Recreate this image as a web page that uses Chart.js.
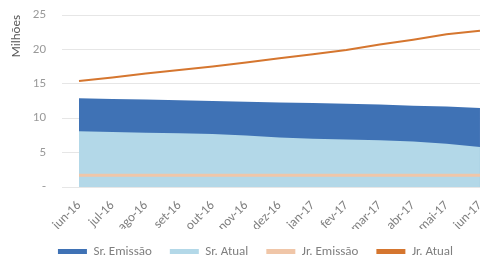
<!DOCTYPE html>
<html>
<head>
<meta charset="utf-8">
<script src="https://cdn.jsdelivr.net/npm/chart.js@4"></script>
<style>
  html, body { margin: 0; padding: 0; background: #fff; }
  #wrap { width: 494px; height: 257px; }
</style>
</head>
<body>
<div id="wrap"><canvas id="chart"></canvas></div>
<script>
const months = ['jun-16', 'jul-16', 'ago-16', 'set-16', 'out-16', 'nov-16', 'dez-16',
  'jan-17', 'fev-17', 'mar-17', 'abr-17', 'mai-17', 'jun-17'];
const srEmissao = [12.9, 12.8, 12.7, 12.6, 12.5, 12.4, 12.3, 12.2, 12.1, 12.0, 11.8, 11.7, 11.5];
const srAtual = [8.1, 8.0, 7.9, 7.8, 7.7, 7.5, 7.2, 7.0, 6.9, 6.8, 6.6, 6.3, 5.8];
const jrEmissao = [1.7, 1.7, 1.7, 1.7, 1.7, 1.7, 1.7, 1.7, 1.7, 1.7, 1.7, 1.7, 1.7];
const jrAtual = [15.4, 15.9, 16.5, 17.0, 17.5, 18.1, 18.7, 19.3, 19.9, 20.7, 21.4, 22.2, 22.7];
const yTicks = [0, 5, 10, 15, 20, 25];

// fixed legend height, and nudge it to where the original sits
const legendFix = {
  id: 'legendFix',
  beforeUpdate: function (chart) {
    const lg = chart.legend;
    if (lg && !lg._patched) {
      const fit = lg.fit;
      const draw = lg.draw;
      lg.fit = function () { fit.call(this); this.height = 28; };
      lg.draw = function () {
        this.ctx.save();
        this.ctx.translate(14, -2);
        draw.call(this);
        this.ctx.restore();
      };
      lg._patched = true;
    }
  }
};

document.addEventListener('DOMContentLoaded', function () {
  const ctx = document.getElementById('chart').getContext('2d');
  Chart.defaults.font.family = 'Carlito, Calibri, "Liberation Sans", sans-serif';
  Chart.defaults.color = '#7f7f7f';

  new Chart(ctx, {
    type: 'line',
    plugins: [legendFix],
    data: {
      labels: months,
      datasets: [{
        label: 'Jr. Atual',
        data: jrAtual,
        borderColor: '#d5762f',
        borderWidth: 2,
        pointRadius: 0,
        fill: false,
        order: 1
      },
      {
        label: 'Jr. Emissão',
        data: jrEmissao,
        borderColor: '#f0c6a8',
        borderWidth: 3,
        pointRadius: 0,
        fill: false,
        order: 2
      },
      {
        label: 'Sr. Atual',
        data: srAtual,
        borderColor: '#b3d8e8',
        backgroundColor: '#b3d8e8',
        borderWidth: 0,
        pointRadius: 0,
        fill: 'origin',
        order: 3
      },
      {
        label: 'Sr. Emissão',
        data: srEmissao,
        borderColor: '#3f72b5',
        backgroundColor: '#3f72b5',
        borderWidth: 0,
        pointRadius: 0,
        fill: 'origin',
        order: 4
      }]
    },
    options: {
      responsive: true,
      maintainAspectRatio: false,
      animation: false,
      layout: { padding: { top: 15, right: 11, left: 0, bottom: 0 } },
      plugins: {
        legend: {
          position: 'bottom',
          reverse: true,
          labels: {
            boxWidth: 29,
            boxHeight: 5,
            padding: 18,
            color: '#7f7f7f',
            font: { size: 13 },
            generateLabels: function (chart) {
              const items = Chart.defaults.plugins.legend.labels.generateLabels(chart);
              items.forEach(function (it) {
                const ds = chart.data.datasets[it.datasetIndex];
                it.fillStyle = ds.borderColor;
                it.strokeStyle = ds.borderColor;
                it.lineWidth = 0;
              });
              return items;
            }
          }
        },
        tooltip: { enabled: false }
      },
      scales: {
        y: {
          min: 0,
          max: 25,
          afterBuildTicks: function (scale) {
            scale.ticks = yTicks.map(function (v) { return { value: v }; });
          },
          afterFit: function (scale) {
            scale.width = 79;
            scale.paddingTop = 0;
            scale.paddingBottom = 0;
          },
          title: {
            display: true,
            text: 'Milhões',
            align: 'end',
            color: '#595959',
            font: { size: 13 },
            padding: { top: 9, bottom: 0 }
          },
          ticks: {
            color: '#999999',
            font: { size: 13 },
            padding: 16,
            callback: function (v) { return v === 0 ? '-' : v; }
          },
          border: { display: false },
          grid: { color: '#e6e6e6', tickLength: 17, drawTicks: true }
        },
        x: {
          offset: false,
          afterFit: function (scale) { scale.height = 42; },
          ticks: {
            color: '#7f7f7f',
            font: { size: 13 },
            maxRotation: 45,
            minRotation: 45,
            autoSkip: false,
            padding: 3
          },
          border: { display: false },
          grid: { display: false }
        }
      }
    }
  });
});
</script>
</body>
</html>
